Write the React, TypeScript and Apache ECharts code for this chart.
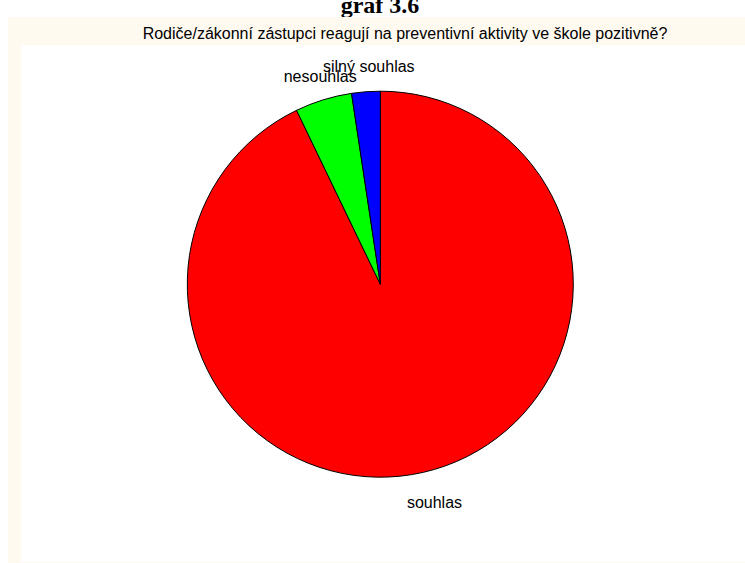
import React, { useEffect, useRef } from "react";
import * as echarts from "echarts";

const chartTitle = "graf 3.6";
const question = "Rodiče/zákonní zástupci reagují na preventivní aktivity ve škole pozitivně?";
const categories = ["souhlas", "nesouhlas", "silný souhlas"];
const counts = [39, 2, 1];
const colors = ["#ff0000", "#00ff00", "#0000ff"];

const CX = 380.3;
const CY = 284.2;
const R = 193;
const LABEL_R = 221;

export default function App() {
  const ref = useRef<HTMLDivElement>(null);
  useEffect(() => {
    if (!ref.current) return;
    const chart = echarts.init(ref.current, null, { renderer: "svg" });
    const total = counts.reduce((a, b) => a + b, 0);
    const mids: number[] = [];
    let acc = 0;
    counts.forEach((v) => {
      mids.push(((acc + v / 2) / total) * 2 * Math.PI);
      acc += v;
    });
    chart.setOption({
      animation: false,
      backgroundColor: "#ffffff",
      graphic: [
        {
          type: "text",
          z: 0,
          x: 380,
          y: 17,
          style: {
            text: chartTitle,
            fill: "#000",
            font: "bold 24px 'Liberation Serif', 'Times New Roman', serif",
            align: "center",
            verticalAlign: "bottom",
          },
        },
        {
          type: "rect",
          z: 1,
          shape: { x: 8, y: 17, width: 737, height: 546 },
          style: { fill: "#fffaf0" },
        },
        {
          type: "rect",
          z: 2,
          shape: { x: 21, y: 45, width: 724, height: 517 },
          style: { fill: "#ffffff" },
        },
        {
          type: "text",
          z: 3,
          x: 405,
          y: 33,
          style: {
            text: question,
            fill: "#000",
            font: "16px 'Liberation Sans', Arial, sans-serif",
            align: "center",
            verticalAlign: "middle",
          },
        },
      ],
      series: [
        {
          type: "pie",
          z: 10,
          center: [CX, CY],
          radius: [0, R],
          startAngle: 90,
          clockwise: true,
          avoidLabelOverlap: false,
          silent: true,
          emphasis: { disabled: true },
          itemStyle: { borderColor: "#000000", borderWidth: 1 },
          label: {
            show: true,
            position: "outside",
            color: "#000",
            fontFamily: "'Liberation Sans', Arial, sans-serif",
            fontSize: 16,
          },
          labelLine: { show: false },
          labelLayout: (p: any) => {
            const a = mids[p.dataIndex];
            return {
              x: CX + LABEL_R * Math.sin(a) + 5,
              y: CY - LABEL_R * Math.cos(a) + 3,
              align: "center",
              verticalAlign: "middle",
            };
          },
          data: categories.map((c, i) => ({
            name: c,
            value: counts[i],
            itemStyle: { color: colors[i] },
          })),
        },
      ],
    });
    return () => chart.dispose();
  }, []);
  return (
    <div
      ref={ref}
      style={{ position: "fixed", left: 0, top: 0, width: 745, height: 563 }}
    />
  );
}
